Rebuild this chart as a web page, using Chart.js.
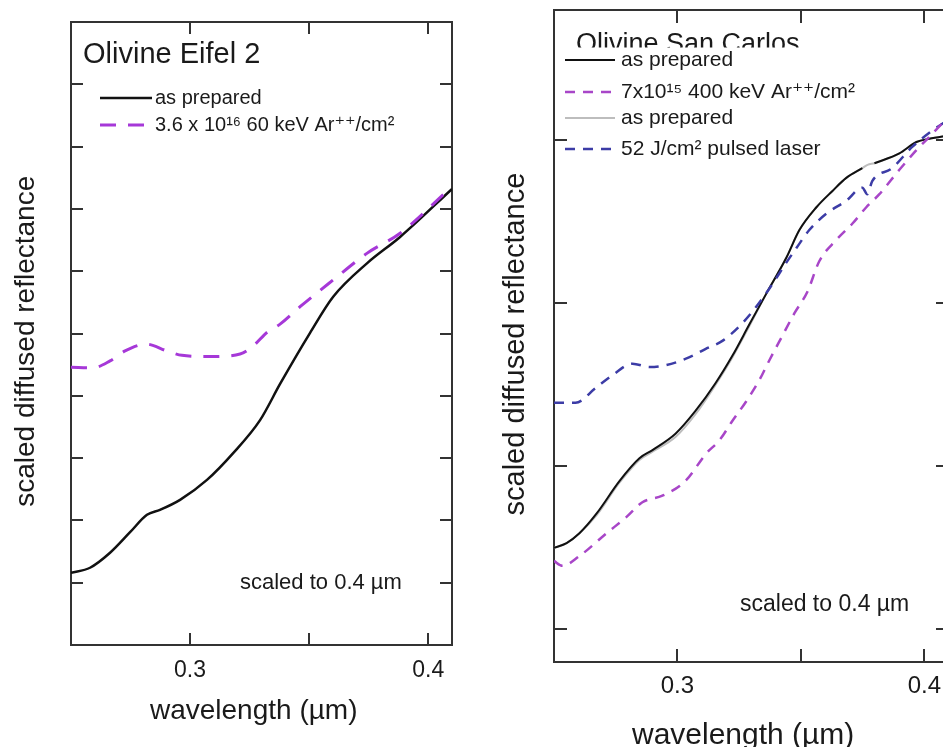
<!DOCTYPE html>
<html>
<head>
<meta charset="utf-8">
<script src="https://cdn.jsdelivr.net/npm/chart.js@4.4.1/dist/chart.umd.min.js"></script>
<style>
  html, body { margin: 0; padding: 0; background: #fff; width: 943px; height: 747px; overflow: hidden; }
  .panel { position: absolute; top: 0; height: 747px; }
  #eifel-wrap { left: 0; width: 470px; }
  #sancarlos-wrap { left: 480px; width: 480px; }
</style>
</head>
<body>
<div class="panel" id="eifel-wrap"><canvas id="eifel-chart" width="470" height="747"></canvas></div>
<div class="panel" id="sancarlos-wrap"><canvas id="sancarlos-chart" width="480" height="747"></canvas></div>
<script>
// ---- Olivine Eifel 2 (left panel) ----
const eifel_prepared_wl = [0.25, 0.258, 0.2664, 0.2748, 0.2819, 0.2874, 0.2958, 0.3071, 0.3181, 0.3294, 0.3378, 0.3504, 0.3601, 0.3744, 0.3882, 0.41]
const eifel_prepared = [1.16, 1.24, 1.48, 1.81, 2.09, 2.17, 2.33, 2.65, 3.08, 3.61, 4.19, 5.01, 5.59, 6.13, 6.55, 7.32]
const eifel_ar_wl = [0.25, 0.2592, 0.2664, 0.2727, 0.2815, 0.2903, 0.2966, 0.3084, 0.321, 0.3265, 0.3324, 0.3378, 0.3462, 0.3601, 0.3744, 0.3882, 0.41]
const eifel_ar = [4.46, 4.45, 4.56, 4.72, 4.83, 4.72, 4.65, 4.63, 4.67, 4.80, 5.02, 5.15, 5.43, 5.86, 6.29, 6.61, 7.36]
const eifel_x_ticks = [0.3, 0.35, 0.4]
const eifel_y_ticks = [1, 2, 3, 4, 5, 6, 7, 8, 9]

// ---- Olivine San Carlos (right panel) ----
const sc_prepared_wl = [0.25, 0.2551, 0.2603, 0.2672, 0.2765, 0.2846, 0.2899, 0.2992, 0.3073, 0.3154, 0.3223, 0.3291, 0.336, 0.3441, 0.3494, 0.3563, 0.3628, 0.3684, 0.3749, 0.377, 0.3798, 0.3899, 0.3968, 0.402, 0.41]
const sc_prepared = [0.50, 0.53, 0.59, 0.71, 0.91, 1.05, 1.10, 1.20, 1.34, 1.51, 1.68, 1.87, 2.06, 2.28, 2.45, 2.59, 2.69, 2.77, 2.83, null, 2.86, 2.92, 2.99, 3.01, 3.03]
const sc_prepared2 = [0.50, 0.53, 0.59, 0.70, 0.90, 1.04, 1.09, 1.18, 1.32, 1.50, 1.67, 1.86, 2.06, 2.28, 2.45, 2.59, 2.69, 2.77, 2.83, 2.85, 2.86, 2.92, 2.99, 3.01, 3.03]
const sc_ar_wl = [0.25, 0.2534, 0.2603, 0.2713, 0.2794, 0.2858, 0.2939, 0.3032, 0.3117, 0.317, 0.3223, 0.3279, 0.3332, 0.3372, 0.3421, 0.3474, 0.3526, 0.3575, 0.3644, 0.3709, 0.3765, 0.3818, 0.3899, 0.3968, 0.4032, 0.41]
const sc_ar = [0.42, 0.39, 0.45, 0.59, 0.69, 0.78, 0.82, 0.91, 1.08, 1.16, 1.28, 1.40, 1.53, 1.65, 1.79, 1.94, 2.07, 2.26, 2.39, 2.49, 2.59, 2.67, 2.82, 2.94, 3.04, 3.15]
const sc_laser_wl = [0.25, 0.2587, 0.2668, 0.2737, 0.2818, 0.2887, 0.2951, 0.3049, 0.3113, 0.3182, 0.3251, 0.3304, 0.3372, 0.3441, 0.3482, 0.3534, 0.3603, 0.3684, 0.3749, 0.3769, 0.3789, 0.387, 0.3951, 0.4032, 0.41]
const sc_laser = [1.39, 1.39, 1.48, 1.56, 1.63, 1.61, 1.62, 1.67, 1.72, 1.77, 1.86, 1.95, 2.09, 2.25, 2.34, 2.45, 2.55, 2.63, 2.71, 2.67, 2.75, 2.83, 2.96, 3.06, 3.13]
const sc_x_ticks = [0.3, 0.35, 0.4]
const sc_y_ticks = [0, 1, 2, 3]

const font_family = '"Liberation Sans", Arial, "DejaVu Sans", sans-serif'
const frame_color = '#333'
const text_color = '#1a1a1a'

function points(xs, ys) {
  return xs.map(function(x, i) { return { x: x, y: ys[i] } })
}

// axis that only draws the frame edge plus inward tick marks
function frame_axis(position, min, max, tick_values, fit_size, tick_len) {
  return {
    type: 'linear',
    position: position,
    min: min,
    max: max,
    afterBuildTicks: function(scale) {
      scale.ticks = tick_values.map(function(v) { return { value: v } })
    },
    afterFit: function(scale) {
      if (scale.isHorizontal()) scale.height = fit_size
      else scale.width = fit_size
      // keep the frame where the layout padding puts it
      scale.paddingLeft = 0
      scale.paddingRight = 0
      scale.paddingTop = 0
      scale.paddingBottom = 0
    },
    grid: { drawOnChartArea: false, drawTicks: true, tickLength: -tick_len, color: frame_color, lineWidth: 2 },
    border: { display: true, color: frame_color, width: 2 },
    ticks: { display: false }
  }
}

// titles, hand placed legend and note inside the frame
const panel_text = {
  id: 'panel_text',
  afterDraw(chart, args, opts) {
    const ctx = chart.ctx
    ctx.save()
    ctx.fillStyle = text_color
    ctx.textAlign = 'left'
    ctx.textBaseline = 'alphabetic'
    ctx.font = opts.title_font
    ctx.save()
    if (opts.title_clip) {
      ctx.beginPath()
      ctx.rect(0, 0, chart.width, opts.title_clip)
      ctx.clip()
    }
    ctx.fillText(opts.title, opts.title_x, opts.title_y)
    ctx.restore()

    ctx.font = opts.row_font
    ctx.textBaseline = 'middle'
    opts.rows.forEach(function(row) {
      const ds = chart.data.datasets[row.dataset]
      ctx.save()
      ctx.strokeStyle = ds.borderColor
      ctx.lineWidth = ds.borderWidth
      ctx.setLineDash(ds.borderDash || [])
      ctx.beginPath()
      ctx.moveTo(opts.line_x0, row.y)
      ctx.lineTo(opts.line_x1, row.y)
      ctx.stroke()
      ctx.restore()
      ctx.fillText(ds.label, opts.text_x, row.y)
    })

    ctx.font = opts.note_font
    ctx.fillText(opts.note, opts.note_x, opts.note_y)
    ctx.restore()
  }
}

function x_axis(ticks, fit_size, tick_len, pad, tick_size, title_size, title_pad) {
  const ax = frame_axis('bottom', 0.25, 0.41, ticks, fit_size, tick_len)
  ax.ticks = {
    display: true,
    padding: pad,
    color: text_color,
    font: { family: font_family, size: tick_size, lineHeight: 1 },
    maxRotation: 0,
    callback: function(v) { return v === 0.35 ? '' : v.toFixed(1) }
  }
  ax.title = {
    display: true,
    text: 'wavelength (\u00b5m)  ',
    color: text_color,
    font: { family: font_family, size: title_size, lineHeight: 1 },
    padding: { top: 0, bottom: title_pad }
  }
  return ax
}

function y_axis(min, max, ticks, fit_size, tick_len, title_size, title_pad) {
  const ax = frame_axis('left', min, max, ticks, fit_size, tick_len)
  ax.title = {
    display: true,
    text: 'scaled diffused reflectance  ',
    color: text_color,
    font: { family: font_family, size: title_size, lineHeight: 1 },
    padding: { top: title_pad, bottom: 0 }
  }
  return ax
}

new Chart(document.getElementById('eifel-chart').getContext('2d'), {
  type: 'line',
  data: {
    datasets: [
      {
        label: 'as prepared',
        data: points(eifel_prepared_wl, eifel_prepared),
        borderColor: '#111',
        borderWidth: 2.5,
        cubicInterpolationMode: 'monotone',
        pointRadius: 0,
        order: 2
      },
      {
        label: '3.6 x 10\u00b9\u2076 60 keV Ar\u207a\u207a/cm\u00b2',
        data: points(eifel_ar_wl, eifel_ar),
        borderColor: '#a638d8',
        borderWidth: 3,
        borderDash: [16, 12],
        cubicInterpolationMode: 'monotone',
        pointRadius: 0,
        order: 1
      }
    ]
  },
  options: {
    responsive: false,
    animation: false,
    layout: { padding: { top: 22, right: 18, left: 0, bottom: 0 } },
    scales: {
      x: x_axis(eifel_x_ticks, 102, 12, 26, 23, 28, 22),
      x2: frame_axis('top', 0.25, 0.41, eifel_x_ticks, 0, 12),
      y: y_axis(0, 10, eifel_y_ticks, 71, 12, 28, 12),
      y2: frame_axis('right', 0, 10, eifel_y_ticks, 0, 12)
    },
    plugins: {
      legend: { display: false },
      tooltip: { enabled: false },
      panel_text: {
        title: 'Olivine Eifel 2',
        title_font: '29px ' + font_family,
        title_x: 83,
        title_y: 63,
        title_clip: 0,
        row_font: '20px ' + font_family,
        rows: [{ dataset: 0, y: 98 }, { dataset: 1, y: 125 }],
        line_x0: 100,
        line_x1: 152,
        text_x: 155,
        note: 'scaled to 0.4 \u00b5m',
        note_font: '22px ' + font_family,
        note_x: 240,
        note_y: 583
      }
    }
  },
  plugins: [panel_text]
})

new Chart(document.getElementById('sancarlos-chart').getContext('2d'), {
  type: 'line',
  data: {
    datasets: [
      {
        label: 'as prepared',
        data: points(sc_prepared_wl, sc_prepared),
        borderColor: '#111',
        borderWidth: 2,
        spanGaps: false,
        cubicInterpolationMode: 'monotone',
        pointRadius: 0,
        order: 2
      },
      {
        label: '7x10\u00b9\u2075 400 keV Ar\u207a\u207a/cm\u00b2',
        data: points(sc_ar_wl, sc_ar),
        borderColor: '#a846c8',
        borderWidth: 2.5,
        borderDash: [10, 8],
        cubicInterpolationMode: 'monotone',
        pointRadius: 0,
        order: 0
      },
      {
        label: 'as prepared',
        data: points(sc_prepared_wl, sc_prepared2),
        borderColor: '#bdbdbd',
        borderWidth: 2,
        cubicInterpolationMode: 'monotone',
        pointRadius: 0,
        order: 3
      },
      {
        label: '52 J/cm\u00b2 pulsed laser',
        data: points(sc_laser_wl, sc_laser),
        borderColor: '#3c3ca6',
        borderWidth: 2.5,
        borderDash: [10, 8],
        cubicInterpolationMode: 'monotone',
        pointRadius: 0,
        order: 1
      }
    ]
  },
  options: {
    responsive: false,
    animation: false,
    layout: { padding: { top: 10, right: 11, left: 0, bottom: 0 } },
    scales: {
      x: x_axis(sc_x_ticks, 85, 13, 25, 24, 30, -4),
      x2: frame_axis('top', 0.25, 0.41, sc_x_ticks, 0, 13),
      y: y_axis(-0.2, 3.8, sc_y_ticks, 74, 13, 29, 21),
      y2: frame_axis('right', -0.2, 3.8, sc_y_ticks, 0, 13)
    },
    plugins: {
      legend: { display: false },
      tooltip: { enabled: false },
      panel_text: {
        title: 'Olivine San Carlos',
        title_font: '27px ' + font_family,
        title_x: 96,
        title_y: 52,
        title_clip: 47.5,
        row_font: '21px ' + font_family,
        rows: [{ dataset: 0, y: 60 }, { dataset: 1, y: 92 }, { dataset: 2, y: 118 }, { dataset: 3, y: 149 }],
        line_x0: 85,
        line_x1: 135,
        text_x: 141,
        note: 'scaled to 0.4 \u00b5m',
        note_font: '23px ' + font_family,
        note_x: 260,
        note_y: 605
      }
    }
  },
  plugins: [panel_text]
})
</script>
</body>
</html>
